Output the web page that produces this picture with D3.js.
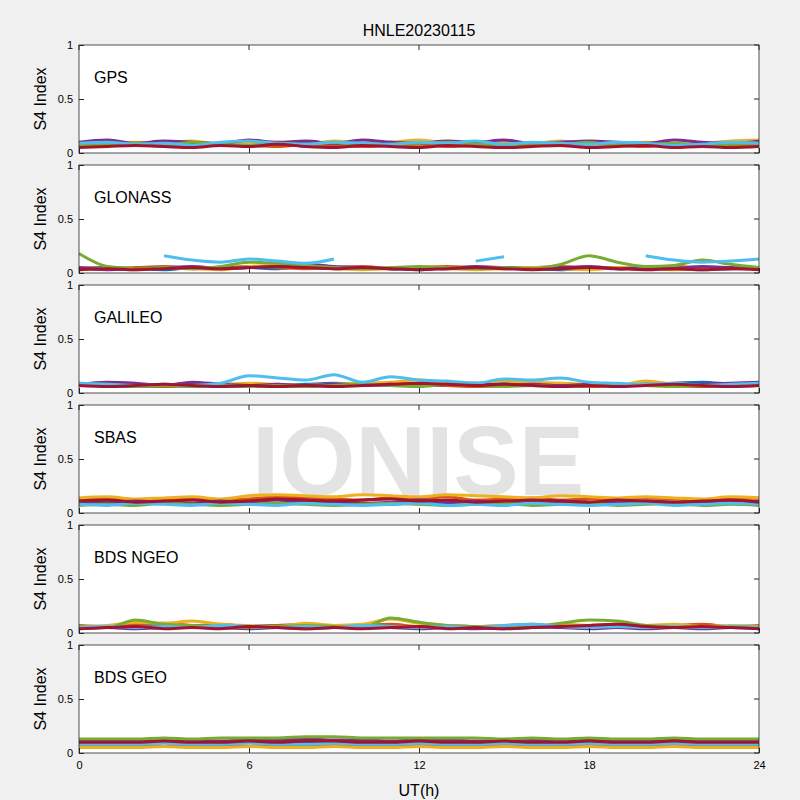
<!DOCTYPE html>
<html><head><meta charset="utf-8">
<script src="https://cdn.jsdelivr.net/npm/d3@7"></script>
<style>body{margin:0;background:#f0f0f0}text{font-family:Arial,"Liberation Sans",sans-serif}</style>
</head><body><svg id="c" width="800" height="800"></svg>
<script>
const title = "HNLE20230115";
const panelNames = ["GPS","GLONASS","GALILEO","SBAS","BDS NGEO","BDS GEO"];
const colors = ["#0072BD","#D95319","#EDB120","#7E2F8E","#77AC30","#4DBEEE","#A2142F"];
const hours = d3.range(0,24.01,1);
const xTicks = [0,6,12,18,24];
const yTicks = [0,0.5,1];
const n = null;
const gps = [
 [.08,.09,.07,.10,.08,.09,.10,.08,.09,.07,.08,.10,.09,.08,.07,.09,.08,.10,.07,.08,.09,.08,.07,.09,.10],
 [.06,.07,.08,.06,.07,.09,.07,.06,.08,.07,.06,.07,.08,.06,.07,.06,.08,.07,.06,.07,.06,.08,.07,.06,.07],
 [.09,.08,.10,.09,.11,.08,.09,.10,.08,.11,.09,.10,.12,.09,.08,.10,.09,.11,.08,.09,.10,.08,.09,.11,.12],
 [.10,.12,.09,.11,.10,.09,.12,.10,.11,.09,.12,.10,.09,.11,.10,.12,.09,.10,.11,.10,.09,.12,.10,.09,.11],
 [.07,.08,.09,.07,.10,.08,.07,.09,.08,.10,.07,.08,.09,.10,.08,.07,.09,.08,.10,.07,.08,.09,.07,.08,.09],
 [.09,.10,.08,.09,.07,.10,.11,.09,.08,.10,.09,.08,.10,.09,.11,.08,.10,.09,.08,.10,.09,.07,.08,.10,.09],
 [.05,.06,.07,.06,.05,.07,.06,.08,.06,.05,.07,.06,.05,.07,.06,.05,.06,.07,.05,.06,.07,.05,.06,.05,.06]];
const glonass = [
 [.04,.05,.04,.03,.05,.04,.05,.04,.06,.04,.05,.04,.03,.05,.04,.05,.04,.03,.05,.04,.05,.04,.03,.04,.05],
 [.05,.04,.05,.06,.04,.05,.06,.05,.04,.05,.06,.04,.05,.06,.05,.04,.05,.06,.04,.05,.04,.06,.05,.04,.05],
 [.03,.04,.03,.05,.04,.03,.06,.07,.05,.04,.03,.04,.05,.04,.03,.04,.05,.04,.03,.05,.04,.03,.04,.05,.04],
 [.05,.03,.04,.05,.06,.04,.05,.06,.08,.06,.05,.04,.05,.04,.06,.05,.04,.05,.06,.04,.05,.04,.06,.05,.04],
 [.18,.06,.04,.05,.04,.06,.10,.09,.07,.05,.04,.05,.06,.05,.04,.05,.04,.08,.16,.10,.06,.07,.12,.08,.05],
 [n,n,n,.16,.12,.10,.13,.11,.09,.13,n,n,n,n,.11,.15,n,n,n,n,.16,.12,.10,.11,.13],
 [.03,.04,.03,.04,.05,.04,.05,.06,.05,.04,.05,.04,.03,.04,.05,.04,.03,.04,.05,.04,.03,.04,.03,.04,.03]];
const galileo = [
 [.08,.07,.06,.07,.08,.07,.06,.07,.08,.09,.08,.07,.08,.07,.08,.09,.08,.07,.08,.07,.08,.09,.10,.08,.07],
 [.07,.08,.07,.06,.07,.08,.07,.06,.07,.08,.07,.09,.08,.07,.06,.07,.08,.07,.06,.07,.08,.07,.06,.07,.08],
 [.09,.08,.07,.08,.07,.08,.09,.08,.07,.08,.09,.10,.12,.10,.09,.11,.10,.09,.08,.07,.11,.08,.07,.08,.09],
 [.08,.10,.09,.07,.10,.08,.07,.08,.07,.08,.07,.08,.07,.08,.09,.07,.08,.07,.08,.07,.08,.07,.08,.09,.10],
 [.07,.08,.06,.07,.06,.07,.06,.07,.06,.07,.08,.07,.06,.08,.07,.06,.07,.06,.07,.08,.07,.06,.07,.06,.07],
 [.09,.08,.07,.08,.07,.09,.16,.14,.12,.17,.10,.15,.12,.11,.09,.13,.12,.14,.10,.09,.08,.09,.07,.08,.09],
 [.07,.06,.07,.08,.07,.06,.07,.06,.07,.06,.07,.08,.09,.08,.07,.08,.07,.06,.07,.06,.07,.08,.07,.06,.07]];
const sbas = [
 [.09,.10,.08,.11,.09,.10,.08,.09,.11,.10,.09,.08,.10,.09,.11,.08,.09,.10,.08,.11,.09,.10,.08,.09,.10],
 [.12,.13,.11,.12,.14,.12,.13,.15,.14,.13,.12,.14,.13,.15,.12,.13,.14,.12,.13,.12,.14,.13,.12,.13,.14],
 [.14,.15,.13,.14,.15,.13,.16,.17,.16,.15,.17,.16,.15,.17,.16,.15,.14,.16,.15,.14,.15,.14,.13,.15,.14],
 [.10,.09,.11,.10,.09,.11,.10,.12,.10,.11,.09,.10,.12,.10,.11,.09,.10,.11,.10,.09,.11,.10,.09,.10,.11],
 [.07,.08,.07,.09,.08,.07,.08,.09,.08,.07,.08,.09,.08,.07,.08,.09,.07,.08,.09,.07,.08,.09,.07,.08,.07],
 [.08,.07,.09,.08,.07,.09,.08,.07,.09,.08,.07,.08,.09,.07,.08,.07,.09,.08,.07,.08,.09,.07,.08,.09,.08],
 [.11,.12,.10,.11,.12,.10,.11,.13,.12,.11,.12,.13,.11,.12,.10,.11,.12,.11,.10,.12,.11,.10,.11,.12,.10]];
const bdsN = [
 [.05,.06,.05,.07,.06,.05,.06,.07,.05,.06,.05,.06,.05,.06,.05,.04,.05,.06,.07,.05,.06,.05,.06,.05,.06],
 [.07,.06,.08,.09,.07,.08,.06,.07,.08,.06,.07,.08,.06,.07,.06,.07,.08,.06,.07,.08,.06,.07,.08,.06,.07],
 [.06,.07,.10,.09,.11,.08,.07,.06,.09,.07,.08,.13,.09,.07,.06,.07,.06,.08,.07,.06,.07,.08,.06,.07,.06],
 [.04,.05,.04,.05,.06,.05,.04,.05,.04,.05,.06,.05,.04,.05,.04,.05,.06,.05,.04,.05,.04,.05,.04,.05,.04],
 [.06,.05,.12,.08,.07,.06,.05,.06,.07,.06,.05,.14,.10,.07,.06,.05,.06,.09,.12,.11,.07,.06,.05,.06,.05],
 [.05,.06,.05,.06,.05,.07,.06,.05,.06,.05,.07,.06,.05,.06,.05,.07,.08,.06,.05,.06,.05,.06,.05,.06,.05],
 [.04,.05,.06,.04,.05,.04,.06,.05,.04,.05,.04,.05,.06,.04,.05,.04,.05,.06,.07,.08,.06,.05,.06,.05,.04]];
const bdsG = [
 [.09,.09,.09,.10,.09,.09,.10,.09,.10,.10,.09,.09,.10,.09,.09,.10,.09,.09,.10,.09,.09,.10,.09,.09,.09],
 [.06,.06,.07,.06,.06,.07,.06,.06,.07,.07,.06,.06,.07,.06,.06,.07,.06,.06,.07,.06,.06,.07,.06,.06,.06],
 [.05,.05,.05,.06,.05,.05,.06,.05,.05,.06,.05,.05,.06,.05,.05,.06,.05,.05,.06,.05,.05,.06,.05,.05,.05],
 [.11,.11,.12,.11,.12,.11,.12,.12,.13,.12,.12,.11,.12,.12,.11,.12,.12,.11,.12,.11,.11,.12,.11,.11,.11],
 [.13,.13,.13,.14,.13,.14,.14,.14,.15,.15,.14,.14,.14,.14,.14,.13,.14,.13,.14,.13,.13,.14,.13,.13,.13],
 [.08,.08,.08,.09,.08,.08,.09,.08,.08,.09,.08,.08,.09,.08,.08,.09,.08,.08,.09,.08,.08,.09,.08,.08,.08],
 [.10,.10,.10,.11,.10,.10,.11,.10,.11,.11,.10,.10,.11,.10,.10,.11,.10,.10,.11,.10,.10,.11,.10,.10,.10]];
const panels = [gps,glonass,galileo,sbas,bdsN,bdsG];

const svg = d3.select("#c");
const L=79,R=759,top0=45,ph=108,gap=12;
const x = d3.scaleLinear().domain([0,24]).range([L,R]);
svg.append("text").attr("x",419).attr("y",36).attr("text-anchor","middle").attr("font-size",16).text(title);
panels.forEach((series,pi)=>{
  const t=top0+pi*(ph+gap);
  const y=d3.scaleLinear().domain([0,1]).range([t+ph,t]);
  const g=svg.append("g");
  g.append("rect").attr("x",L).attr("y",t).attr("width",R-L).attr("height",ph).attr("fill","#fff");
  if(pi===3) g.append("text").attr("x",418).attr("y",t+90).attr("text-anchor","middle").attr("font-size",98).attr("font-weight","bold").attr("fill","#e3e3e3").text("IONISE");
  const line=d3.line().defined(d=>d!=null).x((d,i)=>x(hours[i])).y(d=>y(d)).curve(d3.curveMonotoneX);
  series.forEach((s,si)=>{
    g.append("path").attr("d",line(s)).attr("fill","none").attr("stroke",colors[si]).attr("stroke-width",3);
  });
  g.append("text").attr("x",94).attr("y",t+38).attr("font-size",16).text(panelNames[pi]);
  const ya=g.append("g").attr("transform",`translate(${L},0)`).call(d3.axisLeft(y).tickValues(yTicks).tickFormat(d=>d===0?"0":d===1?"1":d).tickSize(-5).tickSizeOuter(0));
  ya.selectAll("text").attr("font-size",11).attr("x",-6);
  const xa=g.append("g").attr("transform",`translate(0,${t+ph})`).call(d3.axisBottom(x).tickValues(xTicks).tickSize(-5).tickFormat(pi===5?d3.format("d"):""));
  xa.selectAll("text").attr("font-size",11).attr("y",8);
  g.append("rect").attr("x",L).attr("y",t).attr("width",R-L).attr("height",ph).attr("fill","none").attr("stroke","#262626").attr("stroke-width",0.8);
  g.selectAll(".domain").remove();
  g.selectAll(".tick line").attr("stroke","#262626");
  g.append("text").attr("transform",`translate(46,${t+ph/2}) rotate(-90)`).attr("text-anchor","middle").attr("font-size",16).text("S4 Index");
  yTicks.forEach(v=>g.append("line").attr("x1",R).attr("x2",R-5).attr("y1",y(v)).attr("y2",y(v)).attr("stroke","#262626"));
  xTicks.forEach(v=>g.append("line").attr("x1",x(v)).attr("x2",x(v)).attr("y1",t).attr("y2",t+5).attr("stroke","#262626"));
});
svg.append("text").attr("x",419).attr("y",796).attr("text-anchor","middle").attr("font-size",16).text("UT(h)");
</script></body></html>
